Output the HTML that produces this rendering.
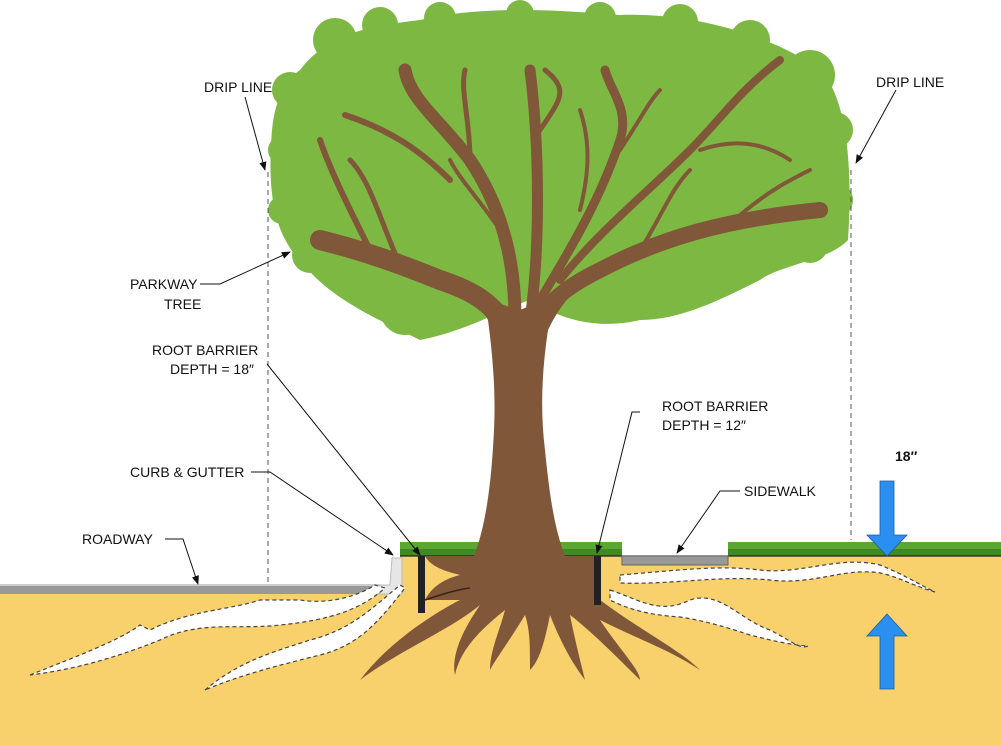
<!DOCTYPE html>
<html><head><meta charset="utf-8"><style>
html,body{margin:0;padding:0;background:#fff}
svg{display:block}
text{font-family:"Liberation Sans",sans-serif;font-size:14px;fill:#111}
</style></head><body>
<svg width="1001" height="745" viewBox="0 0 1001 745" xmlns="http://www.w3.org/2000/svg">
<defs>
<marker id="ah" viewBox="0 0 10 10" refX="9" refY="5" markerWidth="9" markerHeight="9" orient="auto"><path d="M0,1 L10,5 L0,9 Z" fill="#111"/></marker>
</defs>
<!-- soil -->
<rect x="0" y="593" width="1001" height="152" fill="#f8d06c"/>
<rect x="400" y="556" width="601" height="40" fill="#f8d06c"/>
<!-- road -->
<rect x="0" y="585" width="380" height="9" fill="#999"/>
<rect x="0" y="584" width="380" height="2" fill="#ccc"/>
<path d="M380,585 L390,585 L392,558 L402,558 L402,594 L380,594 Z" fill="#e6e6e6" stroke="#bbb" stroke-width="1"/>
<!-- root channels -->
<g fill="#fff" stroke="#444" stroke-width="1.2" stroke-dasharray="4,3">
<path d="M30,675 C80,655 120,640 140,625 L150,630 C190,610 230,610 260,600 L300,600 C330,605 360,595 375,585 L385,588 C360,610 330,620 280,625 C240,630 200,620 160,640 C110,660 70,670 30,675 Z"/>
<path d="M205,690 C240,660 280,650 310,640 C350,630 370,610 400,585 L405,588 C380,620 360,645 320,655 C280,665 240,675 205,690 Z"/>
<path d="M620,575 C680,570 720,565 760,570 C800,575 840,555 880,565 C905,575 920,585 935,592 C910,585 890,572 870,572 C840,570 810,585 770,580 C720,575 670,585 620,583 Z"/>
<path d="M610,590 C640,600 660,615 690,600 C720,590 740,620 770,630 C790,640 800,650 808,646 C790,645 770,640 750,635 C720,625 700,620 680,617 C650,615 630,610 610,600 Z"/>
</g>
<!-- grass -->
<rect x="400" y="542" width="222" height="14" fill="#5aa832"/>
<rect x="728" y="542" width="273" height="14" fill="#5aa832"/>
<rect x="400" y="549" width="222" height="7" fill="#3f8a25"/>
<rect x="728" y="549" width="273" height="7" fill="#3f8a25"/>
<line x1="400" y1="556" x2="1001" y2="556" stroke="#222" stroke-width="1.2"/>
<!-- sidewalk -->
<rect x="622" y="556" width="106" height="9" fill="#999" stroke="#666" stroke-width="1"/>
<!-- canopy -->
<g fill="#7db843">
<path d="M300,70 C330,30 380,25 420,20 C480,5 560,10 620,15 C700,12 780,40 820,70 C850,100 852,180 848,240 C830,260 780,265 760,280 C720,300 680,320 640,320 C600,330 560,320 530,300 C500,310 470,330 420,340 C380,320 330,300 300,260 C270,230 268,180 272,130 C275,100 285,80 300,70 Z"/>
<circle cx="335" cy="40" r="22"/><circle cx="380" cy="25" r="18"/><circle cx="440" cy="18" r="16"/><circle cx="520" cy="14" r="14"/><circle cx="600" cy="18" r="16"/><circle cx="680" cy="22" r="18"/><circle cx="750" cy="40" r="20"/><circle cx="810" cy="75" r="25"/><circle cx="835" cy="130" r="18"/><circle cx="835" cy="200" r="18"/><circle cx="810" cy="245" r="18"/><circle cx="290" cy="90" r="18"/><circle cx="282" cy="150" r="14"/><circle cx="282" cy="210" r="14"/><circle cx="310" cy="255" r="18"/><circle cx="405" cy="310" r="25"/><circle cx="640" cy="300" r="20"/>
</g>
<!-- trunk and branches -->
<g fill="none" stroke="#81573a" stroke-linecap="round" stroke-linejoin="round">
<path d="M510,330 C490,300 470,290 440,280 C390,260 360,250 320,240" stroke-width="20"/>
<path d="M535,320 C560,290 580,280 610,265 C660,240 720,220 820,210" stroke-width="16"/>
<path d="M515,320 C515,280 510,220 470,160 C440,120 410,100 405,70" stroke-width="13"/>
<path d="M530,320 C540,250 540,150 530,70" stroke-width="11"/>
<path d="M540,300 C570,250 600,200 620,140 C630,110 610,90 605,70" stroke-width="9"/>
<path d="M560,280 C600,230 650,190 690,150 C720,120 740,90 780,60" stroke-width="8"/>
<path d="M450,180 C420,150 390,130 345,115" stroke-width="6"/>
<path d="M370,250 C350,210 330,170 320,140" stroke-width="6"/>
<path d="M400,265 C380,220 370,180 350,160" stroke-width="5"/>
<path d="M470,160 C470,120 460,90 465,70" stroke-width="5"/>
<path d="M540,130 C560,100 570,90 545,70" stroke-width="5"/>
<path d="M620,150 C640,120 650,100 660,90" stroke-width="4"/>
<path d="M700,150 C730,140 760,140 790,160" stroke-width="4"/>
<path d="M740,215 C770,190 790,180 810,170" stroke-width="4"/>
<path d="M640,250 C660,220 670,190 690,170" stroke-width="4"/>
<path d="M580,210 C590,170 590,140 580,110" stroke-width="4"/>
<path d="M500,230 C480,200 460,180 450,160" stroke-width="4"/>
</g>
<path d="M474,556 C488,520 492,470 494,430 C496,390 492,350 488,320 C480,305 470,298 462,292 L520,310 L580,285 C565,300 555,315 548,330 C542,370 540,410 545,450 C550,500 555,530 565,556 Z" fill="#81573a"/>
<!-- roots -->
<path d="M425,556 L600,556 L600,600 C640,630 680,650 700,670 C670,650 640,640 600,620 C620,650 640,670 640,680 C620,660 590,630 570,615 C575,640 580,660 585,680 C570,660 560,640 550,615 C545,640 540,660 530,670 C530,645 530,630 525,615 C510,640 495,660 490,670 C490,650 500,630 505,610 C480,630 460,650 455,675 C450,650 470,620 480,605 C450,630 400,650 360,680 C390,640 440,610 460,600 L425,600 C430,590 440,580 460,575 C440,570 430,565 425,556 Z" fill="#81573a"/>
<path d="M425,600 C440,595 455,590 470,588" stroke="#3a2418" stroke-width="1.5" fill="none"/>
<!-- root barriers -->
<rect x="418" y="556" width="7" height="57" fill="#222"/>
<rect x="594" y="556" width="7" height="49" fill="#222"/>
<!-- drip lines -->
<line x1="268" y1="172" x2="268" y2="585" stroke="#555" stroke-width="1" stroke-dasharray="5,4"/>
<line x1="851" y1="170" x2="851" y2="540" stroke="#555" stroke-width="1" stroke-dasharray="5,4"/>
<!-- blue arrows -->
<path d="M880,481 L894,481 L894,535 L907,535 L887,556 L867,535 L880,535 Z" fill="#2a8ff0" stroke="#1a5fa0" stroke-width="0.8"/>
<path d="M880,689 L894,689 L894,636 L907,636 L887,614 L867,636 L880,636 Z" fill="#2a8ff0" stroke="#1a5fa0" stroke-width="0.8"/>
<!-- leaders -->
<g stroke="#111" stroke-width="1" fill="none" marker-end="url(#ah)">
<path d="M245,97 L265,170"/>
<path d="M896,90 L856,163"/>
<path d="M200,284 L220,284 L290,252"/>
<path d="M267,364 L420,555"/>
<path d="M251,472 L270,472 L393,555"/>
<path d="M165,539 L183,539 L198,584"/>
<path d="M640,412 L632,412 L597,553"/>
<path d="M740,491 L720,491 L677,553"/>
</g>
<!-- labels -->
<text x="204" y="92">DRIP LINE</text>
<text x="876" y="87">DRIP LINE</text>
<text x="130" y="289">PARKWAY</text>
<text x="164" y="309">TREE</text>
<text x="152" y="355">ROOT BARRIER</text>
<text x="170" y="374">DEPTH = 18″</text>
<text x="130" y="477">CURB &amp; GUTTER</text>
<text x="82" y="544">ROADWAY</text>
<text x="662" y="411">ROOT BARRIER</text>
<text x="662" y="430">DEPTH = 12″</text>
<text x="744" y="496">SIDEWALK</text>
<text x="895" y="461" style="font-weight:bold">18″</text>
</svg>
</body></html>
